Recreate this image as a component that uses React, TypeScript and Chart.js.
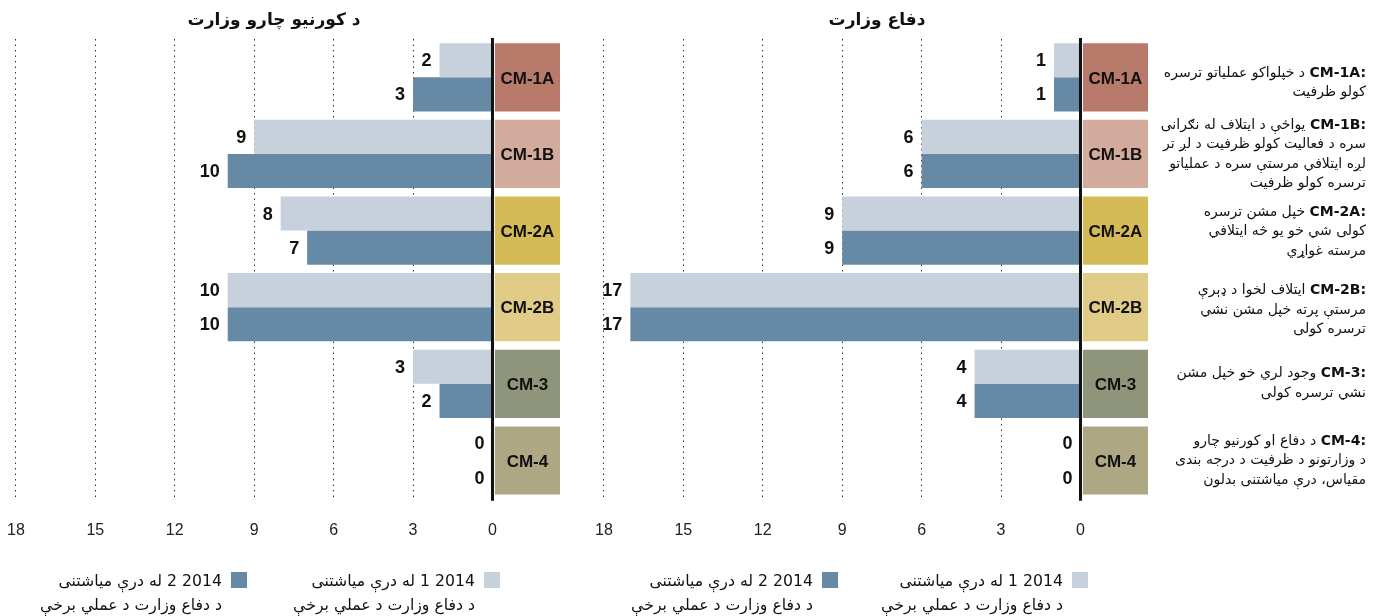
import React, { useEffect, useRef } from "react";
import { Chart, registerables } from "chart.js";

Chart.register(...registerables);

const CATEGORIES = ["CM-1A", "CM-1B", "CM-2A", "CM-2B", "CM-3", "CM-4"];
const CATEGORY_COLORS = ["#b87a6a", "#d3ab9d", "#d5bb56", "#e0cb87", "#8e957b", "#aea784"];
const INTERIOR_Q1 = [2, 9, 8, 10, 3, 0];
const INTERIOR_Q2 = [3, 10, 7, 10, 2, 0];
const DEFENSE_Q1 = [1, 6, 9, 17, 4, 0];
const DEFENSE_Q2 = [1, 6, 9, 17, 4, 0];
const X_TICKS = [18, 15, 12, 9, 6, 3, 0];

const PANEL_TITLES = ["د کورنیو چارو وزارت", "دفاع وزارت"];
const LEGEND_Q1 = ["2014 1 له درې میاشتنی", "د دفاع وزارت د عملي برخې"];
const LEGEND_Q2 = ["2014 2 له درې میاشتنی", "د دفاع وزارت د عملي برخې"];
const DESCRIPTIONS: string[][] = [
  ["د خپلواکو عملیاتو ترسره", "کولو ظرفیت"],
  ["یواځې د ایتلاف له نګرانی", "سره د فعالیت کولو ظرفیت د لږ تر", "لږه ایتلافي مرستې سره د عملیاتو", "ترسره کولو ظرفیت"],
  ["خپل مشن ترسره", "کولی شي خو یو څه ایتلافي", "مرسته غواړي"],
  ["ایتلاف لخوا د ډېرې", "مرستې پرته خپل مشن نشي", "ترسره کولی"],
  ["وجود لري خو خپل مشن", "نشي ترسره کولی"],
  ["د دفاع او کورنیو چارو", "د وزارتونو د ظرفیت د درجه بندی", "مقیاس، درې میاشتنی بدلون"],
];

const LIGHT = "#c6d1dc";
const DARK = "#6689a5";
const X_MAX = 18;
const BOX_START = -0.09;
const BOX_END = -2.55;
const LATIN = '"Liberation Sans", Arial, sans-serif';
const SANS = '"DejaVu Sans", sans-serif';
const DESC_NUDGE = [5, 0, 1, 3, 0, 1];

const overlayPlugin = {
  id: "overlay",
  afterDatasetsDraw(chart: any) {
    const ctx = chart.ctx;
    const xs = chart.scales.x;
    const zeroX = xs.getPixelForValue(0);
    const { top, bottom } = chart.chartArea;
    ctx.save();
    ctx.strokeStyle = "#111";
    ctx.lineWidth = 3;
    ctx.beginPath();
    ctx.moveTo(zeroX, top - 1);
    ctx.lineTo(zeroX, bottom + 2);
    ctx.stroke();

    ctx.fillStyle = "#111";
    ctx.textBaseline = "middle";
    ctx.textAlign = "right";
    ctx.font = `bold 18px ${LATIN}`;
    [0, 1].forEach((di) => {
      const meta = chart.getDatasetMeta(di);
      meta.data.forEach((el: any, i: number) => {
        const v = chart.data.datasets[di].data[i];
        ctx.fillText(String(v), el.x - 8, el.y + 1);
      });
    });

    const bm = chart.getDatasetMeta(2);
    ctx.textAlign = "center";
    ctx.font = `bold 17px ${LATIN}`;
    bm.data.forEach((el: any, i: number) => {
      ctx.fillText(CATEGORIES[i], (el.x + el.base) / 2, el.y + 1.5);
    });
    ctx.restore();
  },
};

function Panel({ left, q1, q2 }: { left: number; q1: number[]; q2: number[] }) {
  const ref = useRef<HTMLCanvasElement | null>(null);
  useEffect(() => {
    if (!ref.current) return;
    const chart = new Chart(ref.current, {
      type: "bar",
      data: {
        labels: CATEGORIES,
        datasets: [
          { label: "q1", data: q1, backgroundColor: LIGHT, barPercentage: 1, categoryPercentage: 0.89 },
          { label: "q2", data: q2, backgroundColor: DARK, barPercentage: 1, categoryPercentage: 0.89 },
          {
            label: "box",
            data: CATEGORIES.map(() => [BOX_START, BOX_END]) as any,
            backgroundColor: CATEGORY_COLORS,
            grouped: false,
            barPercentage: 1,
            categoryPercentage: 0.89,
          },
        ],
      },
      options: {
        indexAxis: "y",
        responsive: false,
        animation: false,
        layout: { padding: { left: 15, right: 20, top: 39, bottom: 20 } },
        plugins: { legend: { display: false }, tooltip: { enabled: false }, title: { display: false } },
        scales: {
          x: {
            type: "linear",
            reverse: true,
            min: BOX_END,
            max: X_MAX,
            afterBuildTicks: (s: any) => {
              s.ticks = X_TICKS.map((v) => ({ value: v }));
            },
            grid: { color: "#333", lineWidth: 1, drawTicks: false },
            border: { display: false, dash: [1.5, 4] },
            ticks: { padding: 22, color: "#222", font: { family: LATIN, size: 16 } },
          },
          y: { type: "category", display: false, offset: true },
        },
      } as any,
      plugins: [overlayPlugin],
    });
    return () => chart.destroy();
  }, []);
  return (
    <canvas
      ref={ref}
      width={595}
      height={582}
      style={{ position: "absolute", left, top: 0, width: 595, height: 582 }}
    />
  );
}

function LegendItem({ swatchLeft, color, lines }: { swatchLeft: number; color: string; lines: string[] }) {
  return (
    <>
      <div style={{ position: "absolute", left: swatchLeft, top: 572, width: 16, height: 16, background: color }} />
      <div
        dir="rtl"
        style={{
          position: "absolute",
          right: 1374 - swatchLeft + 9,
          top: 569,
          textAlign: "right",
          fontFamily: SANS,
          fontSize: 15.7,
          lineHeight: "24px",
          color: "#111",
          whiteSpace: "nowrap",
        }}
      >
        {lines.map((l, i) => (
          <div key={i}>{l}</div>
        ))}
      </div>
    </>
  );
}

export default function App() {
  return (
    <div style={{ position: "absolute", left: 0, top: 0, width: 1374, height: 616, background: "#fff", overflow: "hidden" }}>
      <Panel left={-15} q1={INTERIOR_Q1} q2={INTERIOR_Q2} />
      <Panel left={573} q1={DEFENSE_Q1} q2={DEFENSE_Q2} />
      {PANEL_TITLES.map((t, i) => (
        <div
          key={i}
          dir="rtl"
          style={{
            position: "absolute",
            left: i === 0 ? 174 : 777,
            width: 200,
            top: 9,
            textAlign: "center",
            fontFamily: SANS,
            fontWeight: "bold",
            fontSize: 17,
            color: "#111",
          }}
        >
          {t}
        </div>
      ))}
      {DESCRIPTIONS.map((lines, i) => (
        <div
          key={i}
          style={{
            position: "absolute",
            right: 8,
            width: 240,
            top: 39 + i * 76.4 + DESC_NUDGE[i],
            height: 76.4,
            display: "flex",
            alignItems: "center",
            justifyContent: "flex-end",
          }}
        >
          <div dir="rtl" style={{ textAlign: "right", fontFamily: SANS, fontSize: 14, lineHeight: "19.5px", color: "#111" }}>
            {lines.map((l, j) => (
              <div key={j} style={{ whiteSpace: "nowrap" }}>
                {j === 0 && (
                  <b dir="ltr" style={{ unicodeBidi: "isolate" }}>
                    {CATEGORIES[i] + ":"}
                  </b>
                )}
                {j === 0 ? " " : ""}
                {l}
              </div>
            ))}
          </div>
        </div>
      ))}
      <LegendItem swatchLeft={484} color={LIGHT} lines={LEGEND_Q1} />
      <LegendItem swatchLeft={231} color={DARK} lines={LEGEND_Q2} />
      <LegendItem swatchLeft={1072} color={LIGHT} lines={LEGEND_Q1} />
      <LegendItem swatchLeft={822} color={DARK} lines={LEGEND_Q2} />
    </div>
  );
}
